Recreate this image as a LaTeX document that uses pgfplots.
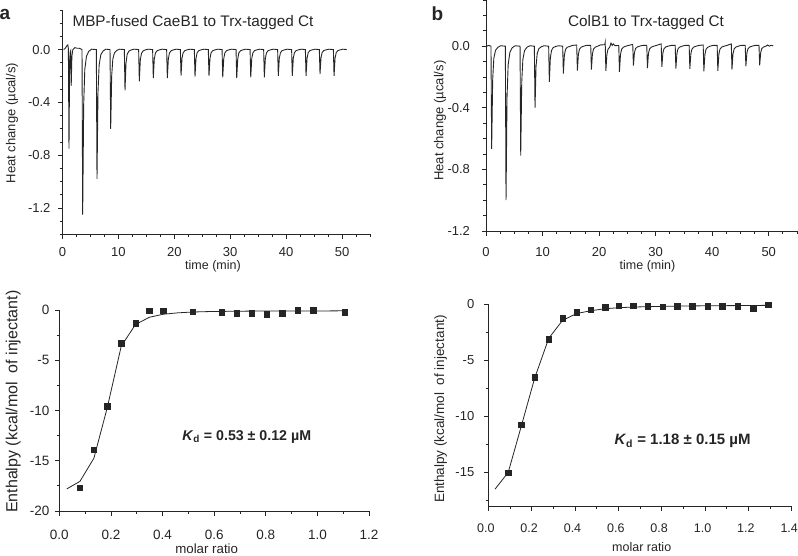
\documentclass[border=0pt]{standalone}
\usepackage{fontspec}
\setmainfont{Liberation Sans}
\usepackage{pgfplots}
\pgfplotsset{compat=1.18}
\definecolor{ink}{HTML}{252525}
\pgfplotsset{
  itc/.style={
    scale only axis,
    axis x line*=bottom, axis y line*=left,
    axis line style={line width=0.9pt, ink},
    tick align=outside,
    major tick length=4.5pt, minor tick length=2.8pt,
    tick style={line width=0.8pt, ink},
    every tick label/.append style={font=\fontsize{13}{15}\selectfont, text=ink},
    /pgf/number format/assume math mode=true,
    clip=false,
  },
  trace/.style={line width=0.9pt, ink, mark=none},
  pts/.style={only marks, mark=square*, mark size=2.7pt, ink, mark options={fill=ink}},
  fit/.style={line width=0.8pt, ink, mark=none},
}
\begin{document}
\begin{tikzpicture}
\useasboundingbox (0pt,0pt) rectangle (798pt,555pt);

% ---------------- panel a (thermogram) ----------------
\begin{axis}[itc, at={(62.5pt,320.7pt)}, anchor=south west, width=307.5pt, height=224.3pt,
  xmin=0, xmax=55, ymin=-1.4, ymax=0.3,
  xtick={0,10,20,30,40,50}, minor xtick={2.5,5,7.5,12.5,15,17.5,22.5,25,27.5,32.5,35,37.5,42.5,45,47.5,52.5,55},
  ytick={-1.2,-0.8,-0.4,0}, minor ytick={-1.4,-1.3,-1.1,-1.0,-0.9,-0.7,-0.6,-0.5,-0.3,-0.2,-0.1,0.1,0.2,0.3},
  yticklabel style={/pgf/number format/fixed, /pgf/number format/fixed zerofill, /pgf/number format/precision=1, xshift=-4pt},
  xticklabel style={yshift=-5pt},
]
\addplot[trace] coordinates {
(0.2,0.0) (0.5,0.01) (0.8,0.03) (0.95,0.035) (1.05,0.01) (1.16,-0.75) (1.28,-0.08) (1.38,-0.02) (1.46,-0.01) (1.56,-0.275) (1.68,-0.05) (1.85,0.0) (2.2,0.015) (2.6,0.01) (3.0,0.01)
(3.49,0) (3.61,-1.25) (3.79,-0.4125) (3.99,-0.15) (4.29,-0.05) (4.71,-0.0125) (5.21,0.003)
(6.05,0) (6.17,-0.98) (6.35,-0.323) (6.55,-0.118) (6.85,-0.039) (7.27,-0.01) (7.77,0.003)
(8.50,0) (8.62,-0.60) (8.80,-0.198) (9.00,-0.072) (9.30,-0.024) (9.72,-0.006) (10.22,0.003)
(11.06,0) (11.18,-0.31) (11.36,-0.102) (11.56,-0.037) (11.86,-0.012) (12.28,-0.003) (12.78,0.003)
(13.62,0) (13.74,-0.24) (13.92,-0.079) (14.12,-0.029) (14.42,-0.01) (14.84,-0.002) (15.34,0.003)
(16.12,0) (16.24,-0.217) (16.42,-0.072) (16.62,-0.026) (16.92,-0.009) (17.34,-0.002) (17.84,0.003)
(18.63,0) (18.75,-0.217) (18.93,-0.072) (19.13,-0.026) (19.43,-0.009) (19.85,-0.002) (20.35,0.003)
(21.08,0) (21.2,-0.197) (21.38,-0.065) (21.58,-0.024) (21.88,-0.008) (22.3,-0.002) (22.8,0.003)
(23.58,0) (23.7,-0.204) (23.88,-0.067) (24.08,-0.024) (24.38,-0.008) (24.8,-0.002) (25.3,0.003)
(26.08,0) (26.2,-0.2) (26.38,-0.066) (26.58,-0.024) (26.88,-0.008) (27.3,-0.002) (27.8,0.003)
(28.54,0) (28.66,-0.21) (28.84,-0.069) (29.04,-0.025) (29.34,-0.008) (29.76,-0.002) (30.26,0.003)
(31.04,0) (31.16,-0.217) (31.34,-0.072) (31.54,-0.026) (31.84,-0.009) (32.26,-0.002) (32.76,0.003)
(33.55,0) (33.67,-0.21) (33.85,-0.069) (34.05,-0.025) (34.35,-0.008) (34.77,-0.002) (35.27,0.003)
(35.98,0) (36.1,-0.21) (36.28,-0.069) (36.48,-0.025) (36.78,-0.008) (37.2,-0.002) (37.7,0.003)
(38.48,0) (38.6,-0.2) (38.78,-0.066) (38.98,-0.024) (39.28,-0.008) (39.7,-0.002) (40.2,0.003)
(40.98,0) (41.1,-0.2) (41.28,-0.066) (41.48,-0.024) (41.78,-0.008) (42.2,-0.002) (42.7,0.003)
(43.44,0) (43.56,-0.2) (43.74,-0.066) (43.94,-0.024) (44.24,-0.008) (44.66,-0.002) (45.16,0.003)
(45.94,0) (46.06,-0.184) (46.24,-0.061) (46.44,-0.022) (46.74,-0.007) (47.16,-0.002) (47.66,0.003)
(48.45,0) (48.57,-0.2) (48.75,-0.066) (48.95,-0.024) (49.25,-0.008) (49.67,-0.002) (50.17,0.003) (50.84,0.0)
};
\end{axis}

% ---------------- panel b (thermogram) ----------------
\begin{axis}[itc, at={(486pt,324pt)}, anchor=south west, width=311pt, height=231pt,
  xmin=0, xmax=55, ymin=-1.2, ymax=0.3,
  xtick={0,10,20,30,40,50}, minor xtick={2.5,5,7.5,12.5,15,17.5,22.5,25,27.5,32.5,35,37.5,42.5,45,47.5,52.5,55},
  ytick={-1.2,-0.8,-0.4,0}, minor ytick={-1.1,-1.0,-0.9,-0.7,-0.6,-0.5,-0.3,-0.2,-0.1,0.1,0.2,0.3},
  yticklabel style={/pgf/number format/fixed, /pgf/number format/fixed zerofill, /pgf/number format/precision=1, xshift=-8pt},
  xticklabel style={yshift=-8pt},
]
\addplot[trace] coordinates {
(0.1,0.0) (0.5,0.005)
(0.88,0) (1.0,-0.667) (1.18,-0.22) (1.38,-0.08) (1.68,-0.027) (2.1,-0.007) (2.6,0.003)
(3.42,0) (3.54,-1.0) (3.72,-0.33) (3.92,-0.12) (4.22,-0.04) (4.64,-0.01) (5.14,0.003)
(6.02,0) (6.14,-0.71) (6.32,-0.234) (6.52,-0.085) (6.82,-0.028) (7.24,-0.007) (7.74,0.003)
(8.55,0) (8.67,-0.40) (8.85,-0.132) (9.05,-0.048) (9.35,-0.016) (9.77,-0.004) (10.27,0.003)
(11.08,0) (11.2,-0.232) (11.38,-0.077) (11.58,-0.028) (11.88,-0.009) (12.3,-0.002) (12.8,0.003)
(13.56,0) (13.68,-0.178) (13.86,-0.059) (14.06,-0.021) (14.36,-0.007) (14.78,-0.002) (15.28,0.005)
(16.04,0.008) (16.16,-0.158) (16.34,-0.052) (16.54,-0.019) (16.84,-0.006) (17.26,0.0) (17.76,0.006)
(18.52,0.005) (18.64,-0.152) (18.82,-0.05) (19.02,-0.018) (19.32,-0.006) (19.74,0.0) (20.24,0.008)
(21.0,0.01) (21.08,0.025) (21.2,-0.16) (21.38,-0.053) (21.58,-0.019) (21.88,-0.006) (22.1,0.02) (22.3,0.005) (22.5,0.015) (22.8,0.003)
(23.48,0.005) (23.6,-0.167) (23.78,-0.055) (23.98,-0.02) (24.28,-0.007) (24.7,0.0) (25.2,0.005)
(25.95,0.012) (26.07,-0.126) (26.25,-0.042) (26.45,-0.015) (26.75,-0.005) (27.17,0.0) (27.67,0.005)
(28.43,0.005) (28.55,-0.143) (28.73,-0.047) (28.93,-0.017) (29.23,-0.006) (29.65,0.0) (30.15,0.005)
(30.98,0.015) (31.1,-0.134) (31.28,-0.044) (31.48,-0.016) (31.78,-0.005) (32.2,0.0) (32.7,0.005)
(33.46,0.005) (33.58,-0.145) (33.76,-0.048) (33.96,-0.017) (34.26,-0.006) (34.68,0.0) (35.18,0.005)
(35.93,0.005) (36.05,-0.147) (36.23,-0.049) (36.43,-0.018) (36.73,-0.006) (37.15,0.0) (37.65,0.005)
(38.41,0.008) (38.53,-0.163) (38.71,-0.054) (38.91,-0.02) (39.21,-0.007) (39.63,0.0) (40.13,0.005)
(40.88,0.005) (41.0,-0.16) (41.18,-0.053) (41.38,-0.019) (41.68,-0.006) (42.1,0.0) (42.6,0.005)
(43.38,0.015) (43.5,-0.152) (43.68,-0.05) (43.88,-0.018) (44.18,-0.006) (44.6,0.0) (45.1,0.005)
(45.84,0.005) (45.96,-0.13) (46.14,-0.043) (46.34,-0.016) (46.64,-0.005) (47.06,0.0) (47.56,0.005)
(48.28,0.005) (48.4,-0.124) (48.58,-0.041) (48.78,-0.015) (49.08,-0.005) (49.5,0.0) (49.8,0.008) (50.1,0.0) (50.4,0.006) (50.8,0.002)
};
\end{axis}

% ---------------- panel a (isotherm) ----------------
\begin{axis}[itc, at={(59.3pt,44pt)}, anchor=south west, width=309.7pt, height=201pt,
  xmin=0, xmax=1.2, ymin=-20, ymax=0,
  xtick={0,0.2,0.4,0.6,0.8,1.0,1.2}, minor xtick={0.1,0.3,0.5,0.7,0.9,1.1},
  ytick={-20,-15,-10,-5,0}, minor ytick={-17.5,-12.5,-7.5,-2.5},
  xticklabel style={/pgf/number format/fixed, /pgf/number format/fixed zerofill, /pgf/number format/precision=1, yshift=-11pt},
  yticklabel style={xshift=-2pt},
  every tick label/.append style={font=\fontsize{13.5}{15}\selectfont},
]
\addplot[fit] coordinates {
(0.029,-17.8) (0.080,-17.05) (0.134,-14.75) (0.186,-9.7) (0.240,-3.6) (0.295,-1.45) (0.349,-0.72) (0.403,-0.42) (0.46,-0.28) (0.517,-0.2) (0.573,-0.16) (0.629,-0.14) (0.687,-0.12) (0.746,-0.11) (0.804,-0.1) (0.864,-0.1) (0.924,-0.09) (0.984,-0.09) (1.045,-0.09) (1.106,-0.08)
};
\addplot[pts] coordinates {
(0.080,-17.7) (0.134,-13.9) (0.186,-9.56) (0.240,-3.32) (0.295,-1.33) (0.349,-0.07) (0.403,-0.07) (0.517,-0.17) (0.629,-0.2) (0.687,-0.33) (0.746,-0.33) (0.804,-0.43) (0.864,-0.33) (0.924,0.0) (0.984,0.0) (1.106,-0.23)
};
\end{axis}

% ---------------- panel b (isotherm) ----------------
\begin{axis}[itc, at={(488.3pt,49pt)}, anchor=south west, width=303.4pt, height=202pt,
  xmin=0, xmax=1.4, ymin=-18, ymax=0,
  xtick={0,0.2,0.4,0.6,0.8,1.0,1.2,1.4}, minor xtick={0.1,0.3,0.5,0.7,0.9,1.1,1.3},
  ytick={-15,-10,-5,0}, minor ytick={-17.5,-12.5,-7.5,-2.5},
  xticklabel style={/pgf/number format/fixed, /pgf/number format/fixed zerofill, /pgf/number format/precision=1, yshift=-10pt, xshift=-2.5pt, font=\fontsize{12.5}{15}\selectfont},
  yticklabel style={xshift=-6pt},
]
\addplot[fit] coordinates {
(0.031,-16.5) (0.092,-15.0) (0.152,-10.9) (0.214,-6.6) (0.279,-3.05) (0.343,-1.45) (0.408,-0.85) (0.472,-0.6) (0.539,-0.42) (0.603,-0.33) (0.669,-0.27) (0.736,-0.24) (0.805,-0.21) (0.872,-0.19) (0.941,-0.17) (1.011,-0.16) (1.08,-0.15) (1.151,-0.14) (1.223,-0.13) (1.292,-0.12)
};
\addplot[pts] coordinates {
(0.092,-15.03) (0.152,-10.73) (0.214,-6.54) (0.279,-3.15) (0.343,-1.25) (0.408,-0.74) (0.472,-0.53) (0.539,-0.3) (0.603,-0.15) (0.669,-0.15) (0.736,-0.18) (0.805,-0.24) (0.872,-0.18) (0.941,-0.21) (1.011,-0.21) (1.08,-0.21) (1.151,-0.18) (1.223,-0.39) (1.292,-0.06)
};
\end{axis}

% ---------------- texts ----------------
\begin{scope}[every node/.style={text=ink}]
\node[font=\bfseries\fontsize{19}{20}\selectfont] at (5pt,541pt) {a};
\node[font=\bfseries\fontsize{19}{20}\selectfont] at (437.5pt,541pt) {b};
\node[font=\fontsize{15.3}{17}\selectfont] at (193pt,532.3pt) {MBP-fused CaeB1 to Trx-tagged Ct};
\node[font=\fontsize{15.3}{17}\selectfont] at (646pt,532.3pt) {ColB1 to Trx-tagged Ct};
\node[font=\fontsize{13}{15}\selectfont, rotate=90] at (12pt,432pt) {Heat change (µcal/s)};
\node[font=\fontsize{13}{15}\selectfont, rotate=90] at (440pt,434.3pt) {Heat change (µcal/s)};
\node[font=\fontsize{12.5}{15}\selectfont] at (213pt,289pt) {time (min)};
\node[font=\fontsize{12.5}{15}\selectfont] at (647.5pt,289pt) {time (min)};
\node[font=\fontsize{16}{18}\selectfont, rotate=90] at (13.3pt,153.3pt) {Enthalpy (kcal/mol\ \ of injectant)};
\node[font=\fontsize{13.5}{15}\selectfont, rotate=90] at (440.7pt,146pt) {Enthalpy (kcal/mol\ \ of injectant)};
\node[font=\fontsize{13.3}{15}\selectfont] at (206.7pt,6.5pt) {molar ratio};
\node[font=\fontsize{12.5}{15}\selectfont] at (641.7pt,8pt) {molar ratio};
\node[font=\bfseries\fontsize{14.2}{17}\selectfont] at (246.7pt,118pt) {\textit{K}\textsubscript{d} = 0.53 ± 0.12 µM};
\node[font=\bfseries\fontsize{15}{17}\selectfont] at (682.5pt,114pt) {\textit{K}\textsubscript{d} = 1.18 ± 0.15 µM};
\end{scope}
\end{tikzpicture}
\end{document}
